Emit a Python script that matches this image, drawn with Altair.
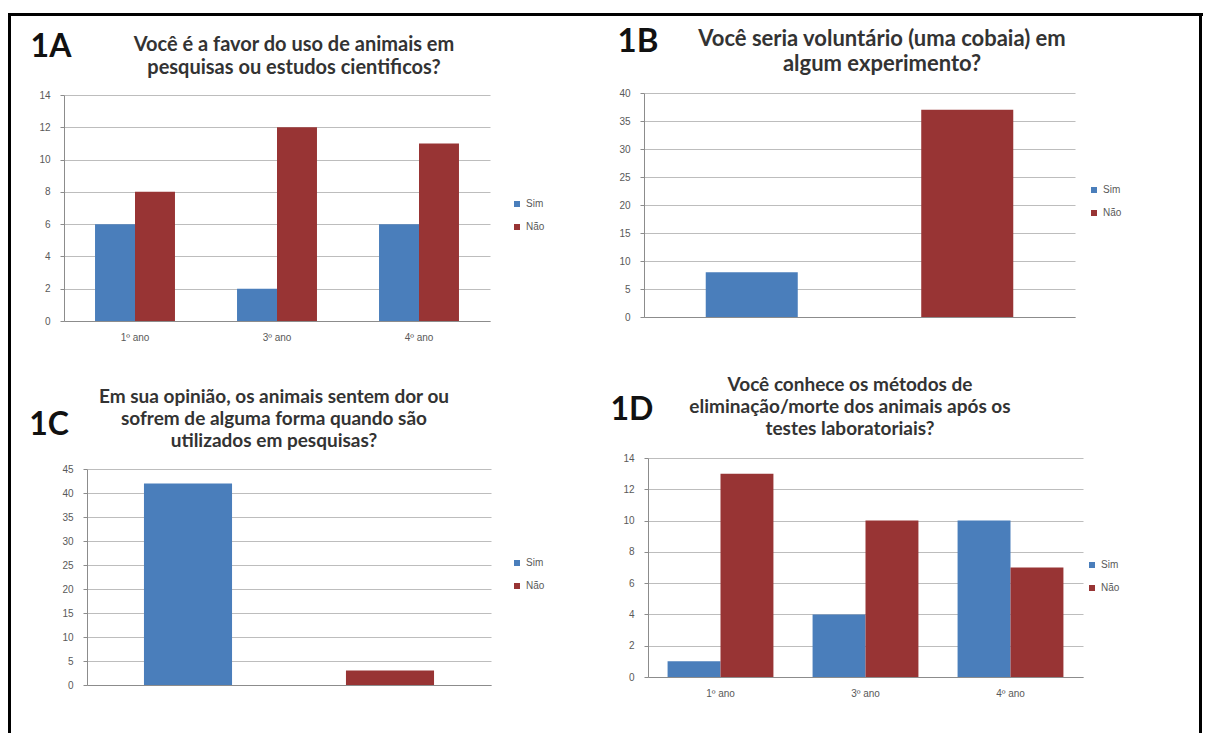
import altair as alt
import pandas as pd

W, H = 1195, 725

years = ["1º ano", "3º ano", "4º ano"]
answers = ["Sim", "Não"]

a_sim = [6, 2, 6]
a_nao = [8, 12, 11]
b_vals = [8, 37]
c_vals = [42, 3]
d_sim = [1, 4, 10]
d_nao = [13, 10, 7]

ticks_a = [0, 2, 4, 6, 8, 10, 12, 14]
ticks_b = [0, 5, 10, 15, 20, 25, 30, 35, 40]
ticks_c = [0, 5, 10, 15, 20, 25, 30, 35, 40, 45]
ticks_d = [0, 2, 4, 6, 8, 10, 12, 14]

labels = ["1A", "1B", "1C", "1D"]
titles = [
    "Você é a favor do uso de animais em\npesquisas ou estudos cientificos?",
    "Você seria voluntário (uma cobaia) em\nalgum experimento?",
    "Em sua opinião, os animais sentem dor ou\nsofrem de alguma forma quando são\nutilizados em pesquisas?",
    "Você conhece os métodos de\neliminação/morte dos animais após os\ntestes laboratoriais?",
]

BLUE = "#4a7ebb"
RED = "#983434"
GRID = "#bdbdbd"
AXIS = "#8c8c8c"
LAB = "#595959"
FONT = "Liberation Sans"
TFONT = "Lato"


def grouped_df(sim, nao):
    rows = []
    for y, s, n in zip(years, sim, nao):
        rows.append({"ano": y, "resp": "Sim", "v": s})
        rows.append({"ano": y, "resp": "Não", "v": n})
    return pd.DataFrame(rows)


def simple_df(vals):
    return pd.DataFrame({"resp": answers, "v": vals})


def y_enc(ticks, x0, y0, y1):
    return alt.Y(
        "v:Q",
        scale=alt.Scale(domain=[0, ticks[-1]], range=[y0, y1], nice=False, zero=True),
        axis=alt.Axis(
            orient="left", offset=-x0, values=ticks, title=None, grid=True,
            gridColor=GRID, gridWidth=1, domainColor=AXIS, tickColor=AXIS,
            tickSize=4, labelPadding=10, labelFontSize=10, labelColor=LAB,
            labelFont=FONT,
        ),
    )


def color_enc(lx, ly):
    return alt.Color(
        "resp:N", sort=answers,
        scale=alt.Scale(domain=answers, range=[BLUE, RED]),
        legend=alt.Legend(
            orient="none", legendX=lx, legendY=ly, title=None,
            symbolType="square", symbolSize=36, symbolStrokeWidth=0,
            labelFontSize=10, labelColor=LAB, labelFont=FONT, rowPadding=13,
            labelOffset=4,
        ),
    )


def text_layers(label, lpos, lsize, title, tpos, tsize, lh):
    lab = alt.Chart(pd.DataFrame({"t": [label]})).mark_text(
        font=TFONT, fontSize=lsize, fontWeight="bold", color="#111111",
        align="center", baseline="middle",
    ).encode(text="t:N", x=alt.value(lpos[0]), y=alt.value(lpos[1]))
    tit = alt.Chart(pd.DataFrame({"t": [title]})).mark_text(
        font=TFONT, fontSize=tsize, fontWeight="bold", color="#333333",
        align="center", baseline="top", lineBreak="\n", lineHeight=lh,
    ).encode(text="t:N", x=alt.value(tpos[0]), y=alt.value(tpos[1]))
    return [lab, tit]


def grouped_panel(sim, nao, ticks, xr, yr, pad, leg, texts):
    bars = alt.Chart(grouped_df(sim, nao)).mark_bar().encode(
        x=alt.X(
            "ano:N", sort=years,
            scale=alt.Scale(range=list(xr), paddingInner=pad, paddingOuter=pad / 2),
            axis=alt.Axis(
                orient="bottom", offset=yr[0] - H, title=None, ticks=False,
                labelAngle=0, domainColor=AXIS, grid=False, labelPadding=11,
                labelFontSize=10, labelColor=LAB, labelFont=FONT,
            ),
        ),
        xOffset=alt.XOffset("resp:N", sort=answers,
                            scale=alt.Scale(paddingInner=0, paddingOuter=0)),
        y=y_enc(ticks, xr[0], yr[0], yr[1]),
        color=color_enc(*leg),
    )
    return alt.layer(bars, *text_layers(*texts))


def simple_panel(vals, ticks, xr, yr, pad, leg, texts):
    bars = alt.Chart(simple_df(vals)).mark_bar().encode(
        x=alt.X(
            "resp:N", sort=answers,
            scale=alt.Scale(range=list(xr), paddingInner=pad, paddingOuter=pad / 2),
            axis=alt.Axis(
                orient="bottom", offset=yr[0] - H, title=None, ticks=False,
                labels=False, domainColor=AXIS, grid=False,
            ),
        ),
        y=y_enc(ticks, xr[0], yr[0], yr[1]),
        color=color_enc(*leg),
    )
    return alt.layer(bars, *text_layers(*texts))


pA = grouped_panel(a_sim, a_nao, ticks_a, (56, 482), (313, 87), 0.437, (504, 191),
                   (labels[0], (43, 39), 32, titles[0], (286, 27), 20, 23))
pB = simple_panel(b_vals, ticks_b, (636, 1067), (309, 85), 0.573, (1081, 177),
                  (labels[1], (630, 34), 33, titles[1], (874, 21), 22, 25))
pC = simple_panel(c_vals, ticks_c, (79, 483), (677, 461), 0.564, (504, 550),
                  (labels[2], (41, 417), 32, titles[2], (266, 380), 19, 22))
pD = grouped_panel(d_sim, d_nao, ticks_d, (640, 1075), (669, 450), 0.27, (1079, 552),
                   (labels[3], (624, 402), 32, titles[3], (842, 368), 19, 22))

frame_df = pd.DataFrame({"k": [1]})
frame = alt.layer(
    alt.Chart(frame_df).mark_rule(color="black", strokeWidth=3).encode(
        x=alt.value(0), x2=alt.value(W), y=alt.value(6.5)),
    alt.Chart(frame_df).mark_rule(color="black", strokeWidth=3).encode(
        x=alt.value(1.5), y=alt.value(5), y2=alt.value(H)),
    alt.Chart(frame_df).mark_rule(color="black", strokeWidth=3).encode(
        x=alt.value(W - 2.5), y=alt.value(5), y2=alt.value(H)),
)

chart = alt.layer(pA, pB, pC, pD, frame).resolve_scale(
    x="independent", y="independent", color="independent", xOffset="independent"
).resolve_axis(
    x="independent", y="independent"
).resolve_legend(
    color="independent"
).properties(
    width=W, height=H, autosize=alt.AutoSizeParams(type="none"), padding=0,
    background="white",
).configure_view(stroke=None)

chart.save("out.html", embed_options={"renderer": "svg", "actions": False})
